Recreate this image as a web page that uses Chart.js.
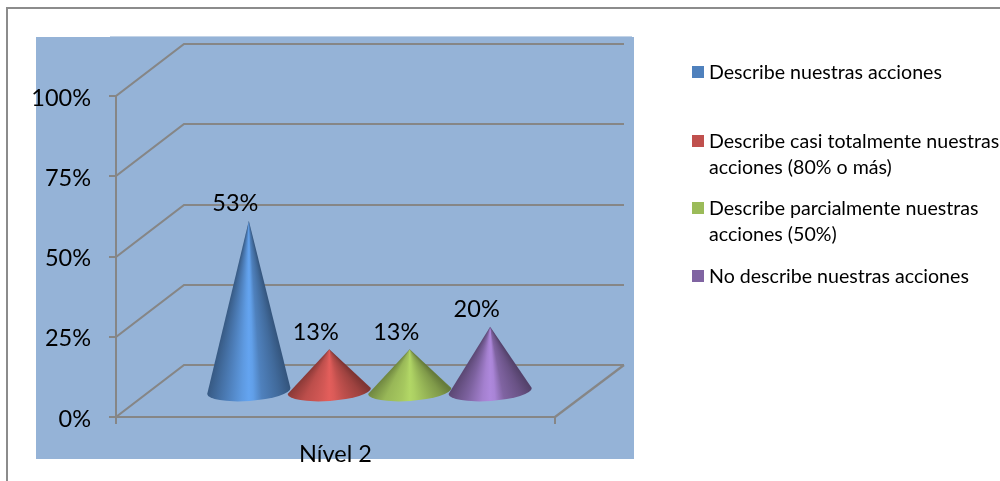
<!DOCTYPE html>
<html>
<head>
<meta charset="utf-8">
<title>Nível 2</title>
<script src="https://cdn.jsdelivr.net/npm/chart.js@4/dist/chart.umd.js"></script>
<style>
  html, body { margin: 0; padding: 0; background: #fff; overflow: hidden; }
  canvas { display: block; }
</style>
</head>
<body>
<canvas id="myChart" width="1000" height="481"></canvas>
<script>
const categories = ['Nível 2']
const seriesNames = [
  ['Describe nuestras acciones'],
  ['Describe casi totalmente nuestras', 'acciones (80% o más)'],
  ['Describe parcialmente nuestras', 'acciones (50%)'],
  ['No describe nuestras acciones']
]
const seriesValues = [53, 13, 13, 20]
const seriesColors = ['#4F81BD', '#C0504D', '#9BBB59', '#8064A2']
const seriesGlow = [1.27, 1.18, 1.15, 1.36]
const valueTicks = [0, 25, 50, 75, 100]

const FONT = 'Lato, Carlito, Calibri, sans-serif'
const LINE_COLOR = '#868686'
// how far the back wall sits from the front axes
const DEPTH = { x: 68, y: -52 }
const LEGEND_TOPS = [72, 141, 208, 276]

// lighten or darken a #rrggbb colour
function shade(hex, f) {
  const n = parseInt(hex.slice(1), 16)
  const c = [n >> 16, (n >> 8) & 255, n & 255].map(v => Math.min(255, Math.round(v * f)))
  return `rgb(${c[0]},${c[1]},${c[2]})`
}

const backdrop = {
  id: 'backdrop',
  beforeDraw(chart) {
    const { ctx, scales } = chart
    ctx.save()
    // outer frame, only top and left are inside the page
    ctx.strokeStyle = '#8c8c8c'
    ctx.lineWidth = 2
    ctx.beginPath()
    ctx.moveTo(7, 481)
    ctx.lineTo(7, 8)
    ctx.lineTo(1000, 8)
    ctx.stroke()

    ctx.fillStyle = '#95B3D7'
    ctx.fillRect(36, 37, 598, 422)
    ctx.fillStyle = '#c2d3e7'
    ctx.fillRect(110, 36, 522, 1)

    // walls: one bent line per tick, then the floor's right edge
    const left = scales.x.left
    const right = scales.x.right
    ctx.strokeStyle = LINE_COLOR
    ctx.lineWidth = 2.2
    valueTicks.forEach(v => {
      const y = Math.round(scales.y.getPixelForValue(v))
      ctx.beginPath()
      ctx.moveTo(left, y)
      ctx.lineTo(left + DEPTH.x, y + DEPTH.y)
      ctx.lineTo(right + DEPTH.x + 1, y + DEPTH.y)
      ctx.stroke()
    })
    const y0 = Math.round(scales.y.getPixelForValue(0))
    ctx.beginPath()
    ctx.moveTo(right, y0)
    ctx.lineTo(right + DEPTH.x + 1, y0 + DEPTH.y)
    ctx.stroke()
    ctx.restore()
  }
}

const cones = {
  id: 'cones',
  afterDatasetsDraw(chart) {
    const { ctx, scales } = chart
    const baseY = scales.y.getPixelForValue(0) + DEPTH.y / 2
    chart.data.datasets.forEach((ds, i) => {
      const bar = chart.getDatasetMeta(i).data[0]
      const cx = bar.x + DEPTH.x / 2
      const tipY = bar.y + DEPTH.y / 2
      const rx = bar.width / 2 + 1.5
      const h = baseY - tipY
      const spread = Math.atan(rx / h) + 0.02

      // conic fill so the shading runs towards the tip
      const g = ctx.createConicGradient(Math.PI / 2 - spread, cx, tipY)
      const color = seriesColors[i]
      const glow = seriesGlow[i]
      const stops = [[0, 0.66], [0.15, 0.82], [0.35, 1], [0.45, glow - 0.04], [0.5, glow], [0.58, glow - 0.08], [0.75, 0.98], [1, 0.68]]
      stops.forEach(([u, f]) => {
        // u runs right edge to left edge across the base
        const a = Math.atan((u - 0.5) * 2 * rx / h) + Math.atan(rx / h) + 0.02
        g.addColorStop(Math.min(1, a / (2 * Math.PI)), shade(color, f))
      })

      ctx.save()
      ctx.fillStyle = g
      ctx.beginPath()
      ctx.moveTo(cx, tipY)
      ctx.ellipse(cx, baseY, rx, 10, -0.07, Math.PI, 0, true)
      ctx.closePath()
      ctx.fill()
      ctx.restore()

      ctx.save()
      ctx.fillStyle = '#000'
      ctx.font = `23.5px ${FONT}`
      ctx.textAlign = 'center'
      ctx.textBaseline = 'middle'
      ctx.fillText(`${seriesValues[i]}%`, cx - 13.5, tipY - 17)
      ctx.restore()
    })
  }
}

// value axis labels sit a little below their tick, so they are placed here
const valueLabels = {
  id: 'valueLabels',
  afterDraw(chart) {
    const { ctx, scales } = chart
    ctx.save()
    ctx.fillStyle = '#000'
    ctx.font = `23.5px ${FONT}`
    ctx.textAlign = 'right'
    ctx.textBaseline = 'middle'
    scales.y.ticks.forEach(t => {
      ctx.fillText(t.label, 91, scales.y.getPixelForValue(t.value) + 2)
    })
    ctx.restore()
  }
}

const sideLegend = {
  id: 'sideLegend',
  afterDraw(chart) {
    const { ctx } = chart
    ctx.save()
    ctx.font = `19.6px ${FONT}`
    ctx.textBaseline = 'middle'
    chart.data.datasets.forEach((ds, i) => {
      const y = LEGEND_TOPS[i]
      ctx.fillStyle = seriesColors[i]
      ctx.fillRect(692, y - 6, 12, 12)
      ctx.fillStyle = '#000'
      ds.label.forEach((line, k) => ctx.fillText(line, 709, y + 1 + k * 25.5))
    })
    ctx.restore()
  }
}

new Chart(document.querySelector('#myChart'), {
  type: 'bar',
  data: {
    labels: categories,
    datasets: seriesNames.map((name, i) => ({
      label: name,
      data: [seriesValues[i]],
      backgroundColor: 'rgba(0,0,0,0)'
    }))
  },
  options: {
    responsive: false,
    animation: false,
    devicePixelRatio: 1,
    layout: { padding: { top: 96, right: 445, left: 0, bottom: 0 } },
    datasets: { bar: { categoryPercentage: 0.733, barPercentage: 1 } },
    plugins: { legend: { display: false }, tooltip: { enabled: false } },
    scales: {
      x: {
        afterFit(scale) { scale.height = 64 },
        border: { color: LINE_COLOR, width: 2 },
        grid: { color: LINE_COLOR, lineWidth: 2, drawOnChartArea: false, tickLength: 7 },
        ticks: { color: '#000', padding: 16, font: { family: FONT, size: 23.5 } }
      },
      y: {
        min: 0,
        max: 100,
        afterFit(scale) { scale.width = 116 },
        afterBuildTicks(scale) { scale.ticks = valueTicks.map(value => ({ value })) },
        border: { color: LINE_COLOR, width: 2 },
        grid: { color: LINE_COLOR, lineWidth: 2, drawOnChartArea: false, tickLength: 7 },
        ticks: { display: false, callback: v => `${v}%` }
      }
    }
  },
  plugins: [backdrop, cones, valueLabels, sideLegend]
})
</script>
</body>
</html>
